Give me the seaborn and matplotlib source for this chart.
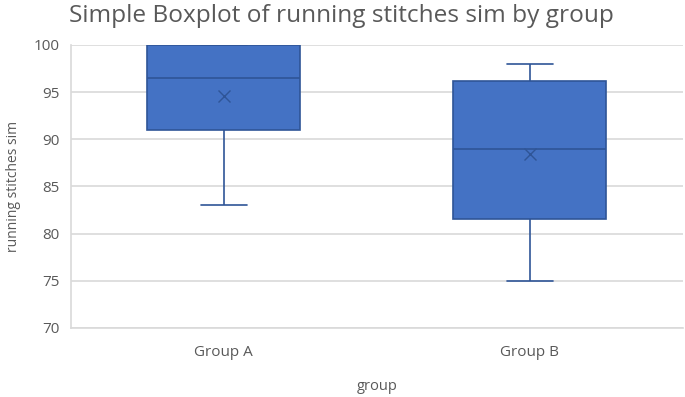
import pandas as pd
import matplotlib
matplotlib.use("Agg")
import matplotlib.pyplot as plt
import seaborn as sns

# estimated raw values read from the box stats in the picture
group_a = [83, 89, 91, 94, 96.5, 98, 100, 100, 100]
group_b = [75, 80, 81.5, 86, 89, 93, 96.2, 97, 98]
groups = ["Group A", "Group B"]

df = pd.DataFrame({
    "group": [groups[0]] * len(group_a) + [groups[1]] * len(group_b),
    "running stitches sim": group_a + group_b,
})

sns.set_theme(style="white")
plt.rcParams["font.family"] = ["Open Sans", "DejaVu Sans"]

fig = plt.figure(figsize=(6.85, 3.97), dpi=100)
ax = fig.add_axes([0.103, 0.174, 0.894, 0.713])

edge = "#2F5597"
sns.boxplot(
    data=df, x="group", y="running stitches sim", ax=ax,
    color="#4472C4", width=0.5, whis=(0, 100), showmeans=True,
    saturation=1, linewidth=1.2, linecolor=edge,
    meanprops=dict(marker="x", markeredgecolor=edge, markersize=9, markeredgewidth=1),
    capwidths=0.15,
)

ax.set_ylim(70, 100)
ax.set_yticks(range(70, 101, 5))
ax.yaxis.grid(True, color="#D9D9D9", linewidth=1.2)
ax.set_axisbelow(True)
for s in ["top", "right"]:
    ax.spines[s].set_visible(False)
for s in ["bottom", "left"]:
    ax.spines[s].set_color("#D9D9D9")
    ax.spines[s].set_linewidth(1.2)
ax.tick_params(axis="both", colors="#595959", labelsize=11, length=0)
ax.tick_params(axis="x", pad=12)
ax.tick_params(axis="y", pad=8)
ax.set_xlabel("group", color="#595959", fontsize=10.5, labelpad=14)
ax.set_ylabel("running stitches sim", color="#595959", fontsize=10, labelpad=9)
fig.suptitle("Simple Boxplot of running stitches sim by group", x=0.101, y=0.99,
             ha="left", fontsize=17.6, color="#595959")

fig.savefig("out.png", dpi=100)
